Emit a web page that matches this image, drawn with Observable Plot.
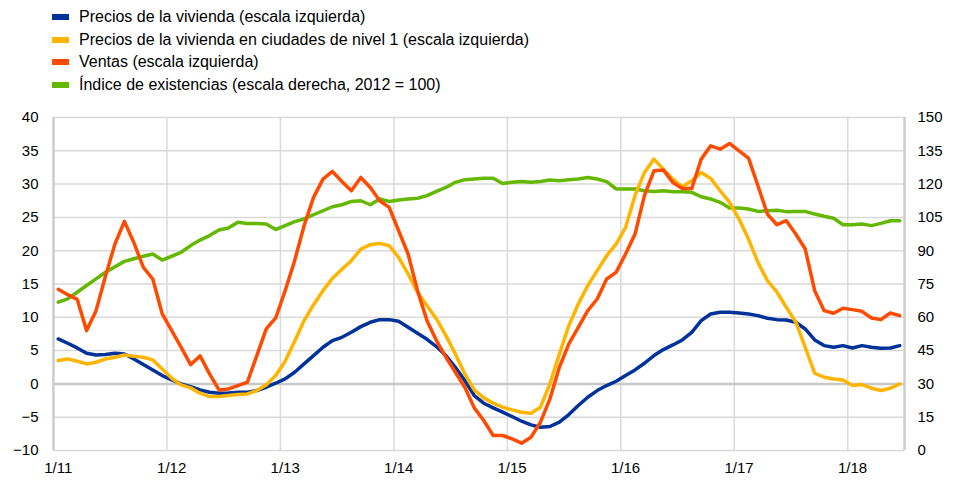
<!DOCTYPE html>
<html><head><meta charset="utf-8">
<script src="https://cdn.jsdelivr.net/npm/d3@7"></script>
<script src="https://cdn.jsdelivr.net/npm/@observablehq/plot@0.6"></script>
<style>
body{margin:0;background:#fff;font-family:"Liberation Sans",Arial,sans-serif;}
#legend{height:97px;position:relative;width:954px;}
.item{position:absolute;left:52px;font-size:16px;color:#000;display:flex;align-items:center;height:18px;white-space:nowrap;}
.sw{width:17px;height:6px;margin-right:10px;}
</style></head><body>
<div id="legend"></div><div id="chart"></div>
<script>
// Tick labels (month index 0 = January 2011, monthly data to June 2018)
const xTickLabels = ["1/11","1/12","1/13","1/14","1/15","1/16","1/17","1/18"];
const xTickIndex = [0,12,24,36,48,60,72,84];
const leftTicks = [-10,-5,0,5,10,15,20,25,30,35,40];

const seriesNames = [
  "Precios de la vivienda (escala izquierda)",
  "Precios de la vivienda en ciudades de nivel 1 (escala izquierda)",
  "Ventas (escala izquierda)",
  "Índice de existencias (escala derecha, 2012 = 100)"
];
const seriesColors = ["#003299","#FFB400","#FF4B00","#65B800"];

const housePrices = [6.75,6.1,5.4,4.6,4.35,4.4,4.6,4.5,3.75,2.9,2.1,1.25,0.6,0,-0.4,
 -0.9,-1.25,-1.4,-1.35,-1.25,-1.25,-1.0,-0.5,0.1,0.75,1.75,3.0,4.25,5.5,6.5,
 7.0,7.75,8.6,9.25,9.65,9.65,9.4,8.5,7.6,6.7,5.6,4.25,2.5,0.5,-1.75,
 -2.9,-3.6,-4.25,-4.9,-5.6,-6.15,-6.5,-6.4,-5.75,-4.6,-3.25,-2.0,-1.0,-0.25,0.4,
 1.25,2.1,3.1,4.25,5.15,5.85,6.6,7.75,9.5,10.5,10.75,10.75,10.65,10.5,10.25,
 9.85,9.65,9.6,9.25,8.25,6.6,5.75,5.5,5.75,5.4,5.75,5.5,5.35,5.4,5.75];

const tier1Prices = [3.5,3.75,3.4,3.0,3.25,3.75,4.0,4.35,4.15,4.0,3.6,2.25,0.85,-0.15,-0.6,
 -1.4,-1.9,-1.9,-1.75,-1.6,-1.5,-1.0,-0.15,1.25,3.4,6.4,9.5,11.9,14,15.85,
 17.2,18.5,20.25,20.9,21.1,20.75,19,16.5,13.75,11.75,9.75,7.25,4.5,1.5,-0.9,
 -2.1,-2.9,-3.5,-3.9,-4.25,-4.4,-3.5,0,4.5,8.75,12,14.75,17,19.25,21,
 23.5,28.3,31.75,33.75,32.25,30.75,29.6,30.5,31.75,30.85,29,27.25,24.75,21.75,18.25,
 15.5,13.8,11.5,9.3,5.5,1.6,1.0,0.75,0.6,-0.25,-0.1,-0.65,-1.0,-0.65,0];

const sales = [14.2,13.4,12.7,8.0,11,16.2,21,24.4,21.2,17.5,15.75,10.5,8,5.5,2.9,
 4.2,1.5,-0.9,-0.75,-0.25,0.25,4.25,8.25,9.9,14,18.5,23.75,28,30.75,31.9,
 30.4,29,31,29.5,27.5,26.5,23,19.5,14,9.5,6.5,4.0,1.75,-0.5,-3.6,
 -5.5,-7.75,-7.75,-8.25,-8.9,-8,-5.75,-2.25,2.5,6,8.5,11,12.75,15.75,16.75,
 19.5,22.5,28.3,32,32.1,30.25,29.35,29.35,33.75,35.75,35.25,36.1,35,33.9,29.75,
 25.5,23.9,24.5,22.5,20.25,14,11,10.6,11.35,11.15,10.9,9.9,9.65,10.65,10.25];

// right axis (index, 2012 = 100)
const inventoryIndex = [66.8,68.3,71.3,74.3,77.3,80.3,82.8,85.2,86.4,87.5,88.5,85.8,87.5,89.3,92.3,
 94.8,96.8,99.3,100.2,102.8,102.3,102.3,102.0,99.5,101.3,103.1,104.3,106.2,108.0,109.8,
 110.7,112.2,112.5,110.7,113.3,112.2,112.8,113.3,113.6,114.8,116.7,118.5,120.8,122.0,122.3,
 122.6,122.6,120.3,120.8,121.2,120.8,121.2,121.8,121.5,122.0,122.3,123.0,122.3,121.1,117.8,
 117.8,117.8,117.0,116.7,117.0,116.6,116.6,116.3,114.3,113.3,111.8,109.2,109.2,108.8,107.7,
 108.0,108.2,107.6,107.7,107.7,106.5,105.5,104.6,101.7,101.7,102.0,101.3,102.3,103.5,103.5];

// legend
const legend = document.getElementById("legend");
const rowCenters = [17,40,62,85];
seriesNames.forEach((name,k)=>{
  const it = document.createElement("div");
  it.className="item";
  it.style.top = (rowCenters[k]-9)+"px";
  it.innerHTML = `<span class="sw" style="background:${seriesColors[k]}"></span><span>${name}</span>`;
  legend.appendChild(it);
});

// right scale maps 0..150 onto left -10..40
const rightToLeft = r => r/3 - 10;
const toRows = (arr, f=(v)=>v) => arr.map((v,i)=>({i, v:f(v)}));

const grey = "#d9d9d9";
const chart = Plot.plot({
  width:954, height:383,
  marginTop:20, marginBottom:30, marginLeft:53, marginRight:50,
  style:{fontFamily:"'Liberation Sans', Arial, sans-serif", fontSize:"15px", color:"#000", background:"#fff", overflow:"visible"},
  x:{type:"linear", domain:[-0.5,89.5]},
  y:{domain:[-10,40]},
  marks:[
    Plot.ruleY(leftTicks, {stroke:grey, strokeWidth:1.5}),
    Plot.ruleX(d3.range(11.5, 89, 12), {stroke:grey, strokeWidth:1.5}),
    Plot.ruleY([0], {stroke:"#c8c8c8", strokeWidth:2.5}),
    Plot.ruleX([-0.5, 89.5], {stroke:"#cccccc", strokeWidth:2.5}),
    Plot.axisY(leftTicks, {anchor:"left", tickSize:0, tickPadding:15, label:null, fill:"#000"}),
    Plot.axisY(leftTicks, {anchor:"right", tickSize:0, tickPadding:13, label:null, tickFormat:d=>String(Math.round((d+10)*3)), fill:"#000"}),
    Plot.axisX(xTickIndex, {anchor:"bottom", tickSize:0, tickPadding:12, label:null, tickFormat:d=>xTickLabels[Math.round(d/12)], fill:"#000"}),
    Plot.line(toRows(inventoryIndex, rightToLeft), {x:"i", y:"v", stroke:seriesColors[3], strokeWidth:3.5, curve:"linear"}),
    Plot.line(toRows(housePrices), {x:"i", y:"v", stroke:seriesColors[0], strokeWidth:3.5}),
    Plot.line(toRows(tier1Prices), {x:"i", y:"v", stroke:seriesColors[1], strokeWidth:3.5}),
    Plot.line(toRows(sales), {x:"i", y:"v", stroke:seriesColors[2], strokeWidth:3.5})
  ]
});
document.getElementById("chart").appendChild(chart);
</script>
</body></html>
